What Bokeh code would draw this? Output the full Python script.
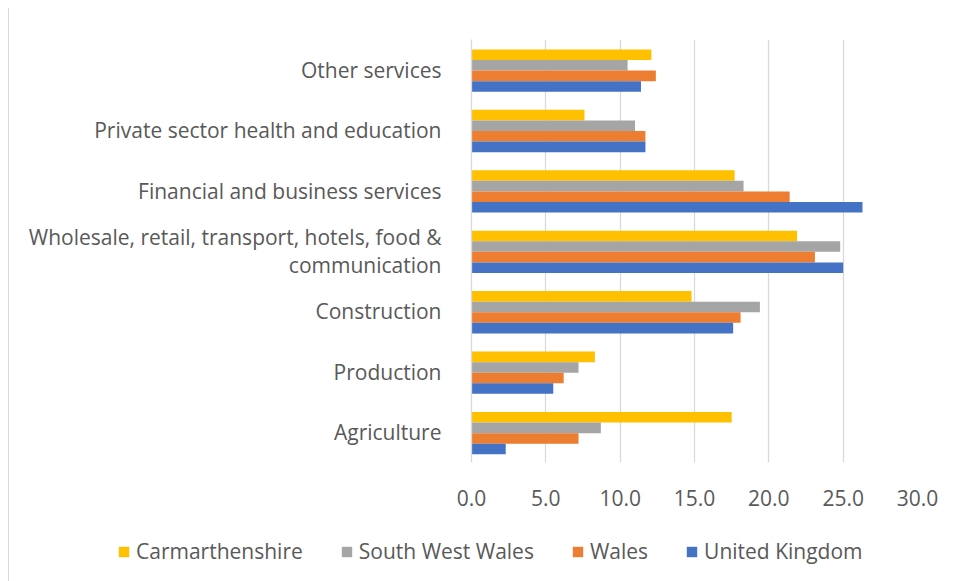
from bokeh.plotting import figure
from bokeh.models import ColumnDataSource, FactorRange, FixedTicker, NumeralTickFormatter, Legend, LegendItem
from bokeh.transform import dodge
from bokeh.embed import file_html
from bokeh.resources import INLINE

# Data (bottom to top)
categories = [
    "Agriculture",
    "Production",
    "Construction",
    "Wholesale, retail, transport, hotels, food &\ncommunication",
    "Financial and business services",
    "Private sector health and education",
    "Other services",
]
carmarthenshire = [17.5, 8.3, 14.8, 21.9, 17.7, 7.6, 12.1]
south_west_wales = [8.7, 7.2, 19.4, 24.8, 18.3, 11.0, 10.5]
wales = [7.2, 6.2, 18.1, 23.1, 21.4, 11.7, 12.4]
united_kingdom = [2.3, 5.5, 17.6, 25.0, 26.3, 11.7, 11.4]
series_names = ["Carmarthenshire", "South West Wales", "Wales", "United Kingdom"]
x_ticks = [0, 5, 10, 15, 20, 25, 30]

colors = ["#FFC000", "#A5A5A5", "#ED7D31", "#4472C4"]
offsets = [0.2485, 0.0735, -0.1015, -0.2765]
bar_h = 0.175

source = ColumnDataSource(dict(
    cat=categories,
    s0=carmarthenshire,
    s1=south_west_wales,
    s2=wales,
    s3=united_kingdom,
))

FONT = "Open Sans"
TXT = "#595959"
GRID = "#d9d9d9"
FS = "21px"

p = figure(
    width=939, height=510,
    y_range=FactorRange(*categories, range_padding=0),
    x_range=(0, 30),
    output_backend="svg", toolbar_location=None,
    min_border_left=462, min_border_right=31,
    min_border_top=31, min_border_bottom=56,
)
p.styles = {"margin-left": "8px", "margin-top": "8px", "border-left": "1px solid #d9d9d9"}
p.outline_line_color = None
p.background_fill_color = "white"
p.border_fill_color = "white"

for i, key in enumerate(["s0", "s1", "s2", "s3"]):
    p.hbar(y=dodge("cat", offsets[i], range=p.y_range), right=key, left=0,
           height=bar_h, source=source, fill_color=colors[i], line_color=None)

# Grid
p.ygrid.grid_line_color = None
p.xgrid.grid_line_color = GRID
p.xgrid.grid_line_width = 1.3
p.xgrid.ticker = FixedTicker(ticks=x_ticks)

# X axis
p.xaxis.ticker = FixedTicker(ticks=x_ticks)
p.xaxis.formatter = NumeralTickFormatter(format="0.0")
p.xaxis.axis_line_color = None
p.xaxis.major_tick_line_color = None
p.xaxis.minor_tick_line_color = None
p.xaxis.major_label_text_font = FONT
p.xaxis.major_label_text_font_size = FS
p.xaxis.major_label_text_color = TXT
p.xaxis.major_label_standoff = 21

# Y axis
p.yaxis.axis_line_color = GRID
p.yaxis.axis_line_width = 1.3
p.yaxis.major_tick_line_color = None
p.yaxis.minor_tick_line_color = None
p.yaxis.major_label_text_font = FONT
p.yaxis.major_label_text_font_size = FS
p.yaxis.major_label_text_color = TXT
p.yaxis.major_label_text_line_height = 1.0
p.yaxis.major_label_standoff = 24

# Legend figure (separate root, stacked directly below the chart)
pl = figure(
    width=939, height=63, x_range=(0, 1), y_range=(0, 1),
    output_backend="svg", toolbar_location=None,
    min_border=0, x_axis_location=None, y_axis_location=None,
)
pl.styles = {"margin-left": "8px", "border-left": "1px solid #d9d9d9"}
pl.outline_line_color = None
pl.grid.grid_line_color = None
pl.background_fill_color = "white"
pl.border_fill_color = "white"

# legend swatch renderers: same series, placed outside this strip's visible range
legend_renderers = [
    pl.hbar(y=-5, right=key, left=0, height=0.5, source=source,
            fill_color=colors[i], line_color=None)
    for i, key in enumerate(["s0", "s1", "s2", "s3"])
]

legend = Legend(
    items=[LegendItem(label=series_names[i], renderers=[legend_renderers[i]]) for i in range(4)],
    orientation="horizontal",
    location=(108, 16),
    label_text_font=FONT,
    label_text_font_size=FS,
    label_text_color=TXT,
    glyph_width=13, glyph_height=13,
    label_standoff=6,
    spacing=37,
    border_line_color=None,
    background_fill_alpha=0,
    padding=0,
    margin=0,
)
pl.add_layout(legend, "center")

open("out.html", "w").write(file_html([p, pl], INLINE))
